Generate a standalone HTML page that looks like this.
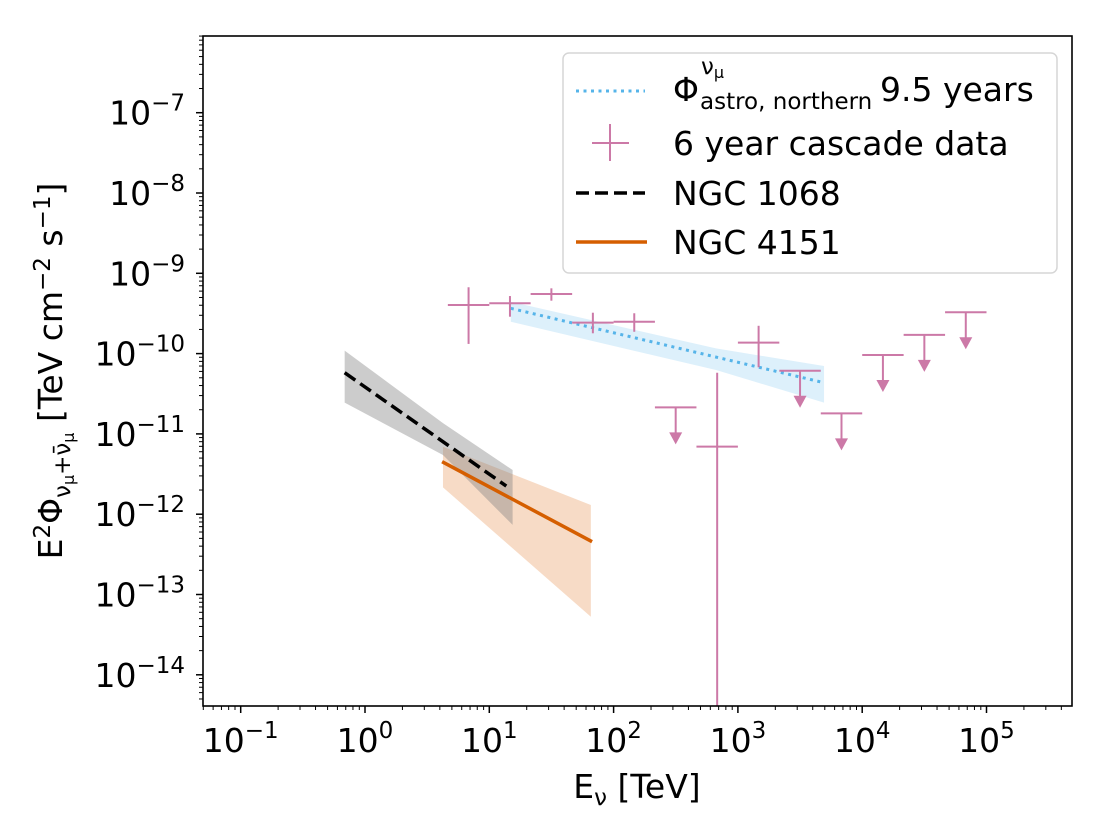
<!DOCTYPE html>
<html><head><meta charset="utf-8"><style>
html,body{margin:0;padding:0;background:#fff;}
svg{display:block;font-family:"DejaVu Sans","Liberation Sans",sans-serif;}
</style></head><body>
<svg id="chart" width="1110" height="832" viewBox="0 0 1110 832" xmlns="http://www.w3.org/2000/svg">
<defs><clipPath id="plotclip"><rect x="203" y="36" width="869" height="670"/></clipPath></defs>
<g id="bands" clip-path="url(#plotclip)"></g>
<g id="lines" clip-path="url(#plotclip)"></g>
<g id="points" clip-path="url(#plotclip)"></g>
<rect x="203" y="36" width="869" height="670" fill="none" stroke="#000" stroke-width="1.6"/>
<g id="xticks"></g>
<g id="yticks"></g>
<text x="637" y="798" font-size="33" text-anchor="middle">E<tspan font-size="23" dy="7">ν</tspan><tspan dy="-7"> [TeV]</tspan></text>
<text transform="translate(62,371) rotate(-90)" font-size="33" text-anchor="middle">E<tspan font-size="23" dy="-12">2</tspan><tspan dy="12">Φ</tspan><tspan font-size="23" dy="8">ν</tspan><tspan font-size="16" dy="4">μ</tspan><tspan font-size="23" dy="-4">+ν̄</tspan><tspan font-size="16" dy="4">μ</tspan><tspan dy="-12"> [TeV cm</tspan><tspan font-size="23" dy="-12">−2</tspan><tspan dy="12"> s</tspan><tspan font-size="23" dy="-12">−1</tspan><tspan dy="12">]</tspan></text>
<g>
<rect x="563" y="53" width="494" height="220" rx="6" fill="#fff" fill-opacity="0.8" stroke="#d6d6d6" stroke-width="1.5"/>
<line x1="576" y1="91" x2="645" y2="91" stroke="#56b4e9" stroke-width="3" stroke-dasharray="3,4.5"/>
<text x="673" y="101" font-size="33">Φ<tspan font-size="23" dx="2" dy="-27">ν</tspan><tspan font-size="16" dy="4">μ</tspan><tspan font-size="23" x="700" y="109">astro, northern</tspan><tspan x="880" y="101">9.5 years</tspan></text>
<line x1="592" y1="143" x2="629" y2="143" stroke="#cc79a7" stroke-width="2"/>
<line x1="610" y1="124" x2="610" y2="161" stroke="#cc79a7" stroke-width="2"/>
<text x="673" y="155" font-size="33">6 year cascade data</text>
<line x1="576" y1="193" x2="645" y2="193" stroke="#000" stroke-width="3.5" stroke-dasharray="13,6"/>
<text x="673" y="205" font-size="33">NGC 1068</text>
<line x1="576" y1="242" x2="647" y2="242" stroke="#d55e00" stroke-width="3.5"/>
<text x="673" y="254" font-size="33">NGC 4151</text>
</g>
</svg>
<script>
// ---- data ----
const xTickExp = [-1, 0, 1, 2, 3, 4, 5];
const yTickExp = [-14, -13, -12, -11, -10, -9, -8, -7];
// cascade measured points
const casELo = [4.64, 10, 21.5, 46.4, 100, 464, 1000];
const casEHi = [10, 21.5, 46.4, 100, 215, 1000, 2154];
const casFlux = [4.03e-10, 4.23e-10, 5.52e-10, 2.43e-10, 2.49e-10, 6.94e-12, 1.37e-10];
const casFluxHi = [6.70e-10, 5.21e-10, 6.5e-10, 3.23e-10, 3.18e-10, 5.78e-11, 2.22e-10];
const casFluxLo = [1.32e-10, 2.88e-10, 4.56e-10, 1.79e-10, 1.87e-10, 1e-16, 6.75e-11];
// cascade upper limits
const ulELo = [215, 2154, 4642, 10000, 21544, 46416];
const ulEHi = [464, 4642, 10000, 21544, 46416, 100000];
const ulFlux = [2.14e-11, 6.12e-11, 1.80e-11, 9.6e-11, 1.71e-10, 3.27e-10];
// NGC 1068
const n1068E = [0.686, 13.7];
const n1068Flux = [5.78e-11, 2.24e-12];
const n1068BandE = [0.686, 4.24, 15.4];
const n1068BandUp = [1.09e-10, 1.36e-11, 3.55e-12];
const n1068BandLo = [2.45e-11, 5.46e-12, 7.35e-13];
// NGC 4151
const n4151E = [4.17, 67.1];
const n4151Flux = [4.51e-12, 4.55e-13];
const n4151BandE = [4.24, 65.6];
const n4151BandUp = [6.93e-12, 1.30e-12];
const n4151BandLo = [2.16e-12, 5.28e-14];
// astro northern
const astroE = [14.9, 4900];
const astroFlux = [3.66e-10, 4.35e-11];
const astroBandE = [14.9, 667, 4930];
const astroBandUp = [4.43e-10, 1.16e-10, 7.0e-11];
const astroBandLo = [2.49e-10, 6.25e-11, 2.45e-11];

// ---- scales ----
const NS = 'http://www.w3.org/2000/svg';
function X(e){ return 365 + 124.3*Math.log10(e); }
function Y(v){ return 353.6 - 80.3*(Math.log10(v)+10); }
function mk(tag, attrs, parent){
  const el = document.createElementNS(NS, tag);
  for (const k in attrs) el.setAttribute(k, attrs[k]);
  parent.appendChild(el); return el;
}
const bands = document.getElementById('bands');
const lines = document.getElementById('lines');
const pts = document.getElementById('points');
const xt = document.getElementById('xticks');
const yt = document.getElementById('yticks');

function band(E, up, lo, fill, op, name){
  let p = E.map((e,i)=>X(e)+','+Y(up[i]));
  for (let i=E.length-1;i>=0;i--) p.push(X(E[i])+','+Y(lo[i]));
  const el = mk('polygon', {points:p.join(' '), fill:fill, 'fill-opacity':op}, bands);
  
  
}
band(astroBandE, astroBandUp, astroBandLo, '#56b4e9', 0.2, 'astro-band');
band(n4151BandE, n4151BandUp, n4151BandLo, '#e8995c', 0.35, 'ngc4151-band');
band(n1068BandE, n1068BandUp, n1068BandLo, '#7f7f7f', 0.4, 'ngc1068-band');

function line(E, F, stroke, w, dash, name){
  const el = mk('polyline', {points:E.map((e,i)=>X(e)+','+Y(F[i])).join(' '), fill:'none', stroke:stroke, 'stroke-width':w}, lines);
  if (dash) el.setAttribute('stroke-dasharray', dash);
  
  
}
line(n1068E, n1068Flux, '#000', 3.5, '13,6', 'ngc1068-line');
line(n4151E, n4151Flux, '#d55e00', 3.5, null, 'ngc4151-line');
line(astroE, astroFlux, '#56b4e9', 3, '3,4.5', 'astro-line');

const pink = '#cc79a7';
casFlux.forEach((f,i)=>{
  const g = mk('g', {stroke:pink, 'stroke-width':2}, pts);
  
  
  const xc = X(Math.sqrt(casELo[i]*casEHi[i]));
  mk('line', {x1:X(casELo[i]), x2:X(casEHi[i]), y1:Y(f), y2:Y(f)}, g);
  mk('line', {x1:xc, x2:xc, y1:Y(casFluxHi[i]), y2:Y(casFluxLo[i])}, g);
});
ulFlux.forEach((f,i)=>{
  const g = mk('g', {stroke:pink, 'stroke-width':2}, pts);
  
  
  const xc = X(Math.sqrt(ulELo[i]*ulEHi[i])), y = Y(f);
  mk('line', {x1:X(ulELo[i]), x2:X(ulEHi[i]), y1:y, y2:y}, g);
  mk('line', {x1:xc, x2:xc, y1:y, y2:y+26}, g);
  mk('polygon', {points:(xc-6.5)+','+(y+25)+' '+(xc+6.5)+','+(y+25)+' '+xc+','+(y+37), fill:pink, stroke:'none'}, g);
});

// ---- axes ----
const L=203, R=1072, T=36, B=706;
xTickExp.forEach(k=>{
  const x = X(Math.pow(10,k));
  mk('line', {x1:x,x2:x,y1:B,y2:B+7,stroke:'#000','stroke-width':1.5}, xt);
  const t = mk('text', {x:x, y:752, 'font-size':33, 'text-anchor':'middle'}, xt);
  
  
  t.innerHTML = '10<tspan font-size="23" dy="-14">'+(k<0?'−'+(-k):k)+'</tspan>';
});
for (let k=-2;k<=5;k++) for (let m=2;m<=9;m++){
  const x = X(m*Math.pow(10,k));
  if (x>L && x<R) mk('line', {x1:x,x2:x,y1:B,y2:B+4,stroke:'#000','stroke-width':1}, xt);
}
yTickExp.forEach(k=>{
  const y = Y(Math.pow(10,k));
  mk('line', {x1:L-7,x2:L,y1:y,y2:y,stroke:'#000','stroke-width':1.5}, yt);
  const t = mk('text', {x:185, y:y+12, 'font-size':33, 'text-anchor':'end'}, yt);
  
  
  t.innerHTML = '10<tspan font-size="23" dy="-14">−'+(-k)+'</tspan>';
});
for (let k=-15;k<=-6;k++) for (let m=2;m<=9;m++){
  const y = Y(m*Math.pow(10,k));
  if (y>T && y<B) mk('line', {x1:L-4,x2:L,y1:y,y2:y,stroke:'#000','stroke-width':1}, yt);
}
</script>
</body></html>
